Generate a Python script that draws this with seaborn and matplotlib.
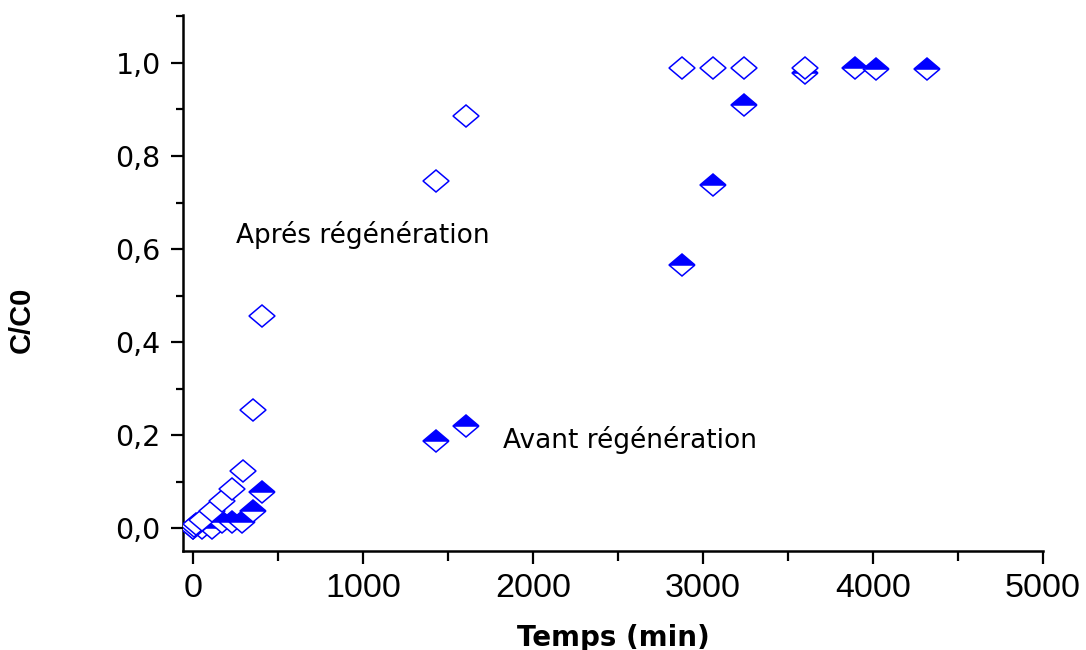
import numpy as np
import pandas as pd
import matplotlib
matplotlib.use('Agg')
import matplotlib.pyplot as plt
from matplotlib.markers import MarkerStyle
from matplotlib.transforms import Affine2D
from matplotlib.ticker import MultipleLocator
import seaborn as sns

# ---- data ----
# after regeneration (open diamonds)
t_apres = [0, 8, 15, 51, 110, 170, 231, 292, 355, 406, 1429, 1606, 2876, 3059, 3241, 3600]
c_apres = [0.0, 0.004, 0.008, 0.017, 0.037, 0.058, 0.084, 0.124, 0.255, 0.456,
           0.746, 0.886, 0.989, 0.989, 0.989, 0.989]

# before regeneration (half filled diamonds)
t_avant = [0, 51, 110, 170, 229, 288, 350, 408, 1429, 1606, 2876, 3059, 3239, 3600, 3894, 4019, 4320]
c_avant = [0.0, 0.0, 0.0, 0.014, 0.014, 0.014, 0.036, 0.077, 0.187, 0.220,
           0.566, 0.738, 0.910, 0.978, 0.989, 0.987, 0.987]

y_ticks = [0.0, 0.2, 0.4, 0.6, 0.8, 1.0]
y_ticklabels = ['0,0', '0,2', '0,4', '0,6', '0,8', '1,0']
x_ticks = [0, 1000, 2000, 3000, 4000, 5000]
x_ticklabels = ['0', '1000', '2000', '3000', '4000', '5000']

df_apres = pd.DataFrame({'t': t_apres, 'c': c_apres})
df_avant = pd.DataFrame({'t': t_avant, 'c': c_avant})

sns.set_style('ticks')
plt.rcParams['font.family'] = ['Liberation Sans', 'DejaVu Sans']
plt.rcParams['text.color'] = 'black'
plt.rcParams['axes.labelcolor'] = 'black'
plt.rcParams['xtick.color'] = 'black'
plt.rcParams['ytick.color'] = 'black'

blue = '#0000ff'
squash = Affine2D().scale(1.08, 0.92)

fig = plt.figure(figsize=(10.86, 6.5), dpi=100)
ax = fig.add_axes([0.1685, 0.1523, 0.7919, 0.8246])

# half filled first, open ones drawn on top
sns.lineplot(data=df_avant, x='t', y='c', ax=ax, estimator=None, sort=False,
             linestyle='', marker=MarkerStyle('D', fillstyle='top', transform=squash),
             markersize=12.5, markerfacecolor=blue, markerfacecoloralt='white',
             markeredgecolor=blue, markeredgewidth=1.1, color=blue, zorder=3)
sns.lineplot(data=df_apres, x='t', y='c', ax=ax, estimator=None, sort=False,
             linestyle='', marker=MarkerStyle('D', transform=squash),
             markersize=12.5, markerfacecolor='white',
             markeredgecolor=blue, markeredgewidth=1.1, color=blue, zorder=4)

ax.text(250, 0.613, 'Aprés régénération', fontsize=19, family='DejaVu Sans',
        va='baseline', ha='left')
ax.text(1822, 0.172, 'Avant régénération', fontsize=19, family='DejaVu Sans',
        va='baseline', ha='left')

ax.set_xlim(-59, 5000)
ax.set_ylim(-0.049, 1.103)

ax.set_yticks(y_ticks)
ax.set_yticklabels(y_ticklabels, fontsize=20.5, family='DejaVu Sans')
ax.yaxis.set_minor_locator(MultipleLocator(0.1))
ax.set_xticks(x_ticks)
ax.set_xticklabels(x_ticklabels, fontsize=24.5)
ax.xaxis.set_minor_locator(MultipleLocator(500))

ax.tick_params(axis='y', which='major', direction='out', length=9, width=1.6, pad=7)
ax.tick_params(axis='y', which='minor', direction='out', length=5, width=1.6)
ax.tick_params(axis='x', which='major', direction='out', length=9, width=1.6, pad=7)
ax.tick_params(axis='x', which='minor', direction='out', length=7, width=1.6)

for s in ['top', 'right']:
    ax.spines[s].set_visible(False)
for s in ['left', 'bottom']:
    ax.spines[s].set_linewidth(1.8)
    ax.spines[s].set_color('black')

ax.set_xlabel('Temps (min)', fontsize=20, fontweight='bold', family='DejaVu Sans')
ax.set_ylabel('C/C0', fontsize=21, fontweight='bold')
ax.xaxis.set_label_coords(0.501, -0.136)
ax.yaxis.set_label_coords(-0.171, 0.431)

fig.savefig('out.png', dpi=100)
